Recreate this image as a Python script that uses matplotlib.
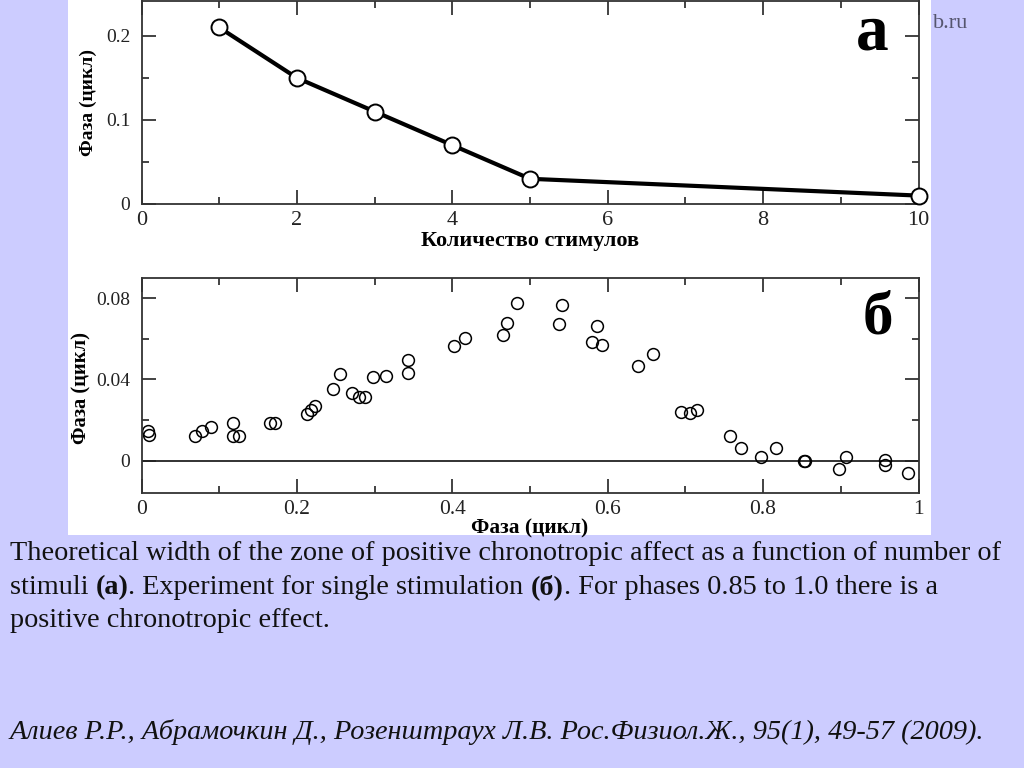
import numpy as np
import matplotlib
matplotlib.use("Agg")
import matplotlib.pyplot as plt
from matplotlib.patches import Rectangle
from matplotlib.ticker import MultipleLocator

plt.rcParams['font.family'] = ['Liberation Serif', 'DejaVu Serif']

# panel (a): theoretical width vs number of stimuli
n_stim = [1, 2, 3, 4, 5, 10]
phase_a = [0.21, 0.15, 0.11, 0.07, 0.03, 0.01]

# panel (б): experiment, single stimulation
phase_in = [0.009, 0.010, 0.069, 0.078, 0.090, 0.118, 0.118, 0.125, 0.165, 0.172,
            0.213, 0.218, 0.223, 0.247, 0.255, 0.271, 0.280, 0.288, 0.298, 0.315,
            0.343, 0.343, 0.402, 0.416, 0.465, 0.470, 0.483, 0.537, 0.541, 0.580,
            0.586, 0.593, 0.639, 0.658, 0.694, 0.706, 0.715, 0.757, 0.771, 0.797,
            0.817, 0.853, 0.854, 0.898, 0.907, 0.957, 0.957, 0.987]
phase_out = [0.0148, 0.0125, 0.0123, 0.0145, 0.0167, 0.0186, 0.0123, 0.0123, 0.0187, 0.0187,
             0.0229, 0.0251, 0.0271, 0.0355, 0.0427, 0.0332, 0.0312, 0.0312, 0.0414, 0.0417,
             0.0496, 0.0433, 0.0565, 0.0604, 0.0621, 0.0677, 0.0778, 0.0672, 0.0768, 0.0585,
             0.0664, 0.0568, 0.0468, 0.0524, 0.0241, 0.0236, 0.0248, 0.0123, 0.0063, 0.0020,
             0.0063, 0.0000, 0.0000, -0.0041, 0.0020, 0.0003, -0.0020, -0.0061]

caption_1 = "Theoretical width of the zone of positive chronotropic affect as a function of number of"
caption_2 = [("stimuli ", "normal"), ("(а)", "bold"), (". Experiment for single stimulation ", "normal"),
             ("(б)", "bold"), (". For phases 0.85 to 1.0 there is a", "normal")]
caption_3 = "positive chronotropic effect."
citation = "Алиев Р.Р., Абрамочкин Д., Розенштраух Л.В. Рос.Физиол.Ж., 95(1), 49-57 (2009)."

W, H = 1024, 768
fig = plt.figure(figsize=(W / 100, H / 100), dpi=100, facecolor='#ccccff')

def fx(px):
    return px / W

def fy(py):
    return 1 - py / H

# watermark partly hidden behind the white picture
fig.text(fx(968), fy(28), "b.ru", ha='right', va='baseline', fontsize=16,
         color='#55556e', zorder=-2)
fig.patches.append(Rectangle((fx(68), fy(535)), fx(931) - fx(68), fy(0) - fy(535),
                             transform=fig.transFigure, facecolor='white',
                             edgecolor='none', zorder=-1))

def style_axes(ax, xsize, ysize):
    ax.tick_params(which='both', direction='in', top=True, right=True,
                   width=1.2, colors='#222222')
    ax.tick_params(which='major', length=10)
    ax.tick_params(which='minor', length=5)
    ax.tick_params(axis='x', which='major', pad=5, labelsize=xsize)
    ax.tick_params(axis='y', which='major', pad=8, labelsize=ysize)
    for s in ax.spines.values():
        s.set_linewidth(1.3)
        s.set_color('#333333')

# top panel
ax1 = fig.add_axes([fx(141.5), fy(204), (918.5 - 141.5) / W, 203 / H])
ax1.plot(n_stim, phase_a, '-o', color='black', lw=3, ms=11.5, mfc='white',
         mec='black', mew=1.4, clip_on=False, zorder=3)
ax1.set_xlim(0, 10)
ax1.set_ylim(0, 0.2415)
ax1.set_xticks([0, 2, 4, 6, 8, 10])
ax1.set_xticklabels(['0', '2', '4', '6', '8', '10'])
ax1.xaxis.set_minor_locator(MultipleLocator(1))
ax1.set_yticks([0, 0.1, 0.2])
ax1.set_yticklabels(['0', '0.1', '0.2'])
ax1.yaxis.set_minor_locator(MultipleLocator(0.05))
style_axes(ax1, 16, 14)
ax1.set_xlabel("Количество стимулов", fontsize=16, fontweight='bold')
ax1.xaxis.set_label_coords(0.5, -0.132)
ax1.set_ylabel("Фаза (цикл)", fontsize=14, fontweight='bold')
ax1.yaxis.set_label_coords(-0.057, 0.5)

# bottom panel
ax2 = fig.add_axes([fx(141.5), fy(492.7), (918.5 - 141.5) / W, (492.7 - 278.3) / H])
ax2.axhline(0, color='#222222', lw=1.3)
ax2.plot(phase_in, phase_out, 'o', ls='none', ms=8.5, mfc='none', mec='black',
         mew=1.1, clip_on=False)
ax2.set_xlim(0, 1)
ax2.set_ylim(-0.0158, 0.0898)
ax2.set_xticks([0, 0.2, 0.4, 0.6, 0.8, 1.0])
ax2.set_xticklabels(['0', '0.2', '0.4', '0.6', '0.8', '1'])
ax2.xaxis.set_minor_locator(MultipleLocator(0.1))
ax2.set_yticks([0, 0.04, 0.08])
ax2.set_yticklabels(['0', '0.04', '0.08'])
ax2.yaxis.set_minor_locator(MultipleLocator(0.02))
style_axes(ax2, 15.5, 14)
ax2.set_xlabel("Фаза (цикл)", fontsize=15.4, fontweight='bold')
ax2.xaxis.set_label_coords(0.5, -0.118)
ax2.set_ylabel("Фаза (цикл)", fontsize=14.8, fontweight='bold')
ax2.yaxis.set_label_coords(-0.064, 0.49)

# panel letters
fig.text(fx(872), fy(50), "а", ha='center', va='baseline', fontsize=47, fontweight='bold')
fig.text(fx(878), fy(334), "б", ha='center', va='baseline', fontsize=44, fontweight='bold')

# caption
cap = dict(fontsize=20.3, color='#111111')
fig.text(fx(10), fy(560), caption_1, va='baseline', **cap)
t = fig.text(fx(10), fy(594), caption_2[0][0], va='baseline', fontweight=caption_2[0][1], **cap)
for s, w in caption_2[1:]:
    t = plt.annotate(s, xy=(1, 0), xycoords=t, va='bottom', ha='left', fontweight=w,
                     annotation_clip=False, **cap)
fig.text(fx(10), fy(627), caption_3, va='baseline', **cap)
fig.text(fx(10), fy(739), citation, va='baseline', fontstyle='italic', **cap)

fig.savefig("out.png", dpi=100, facecolor=fig.get_facecolor())
